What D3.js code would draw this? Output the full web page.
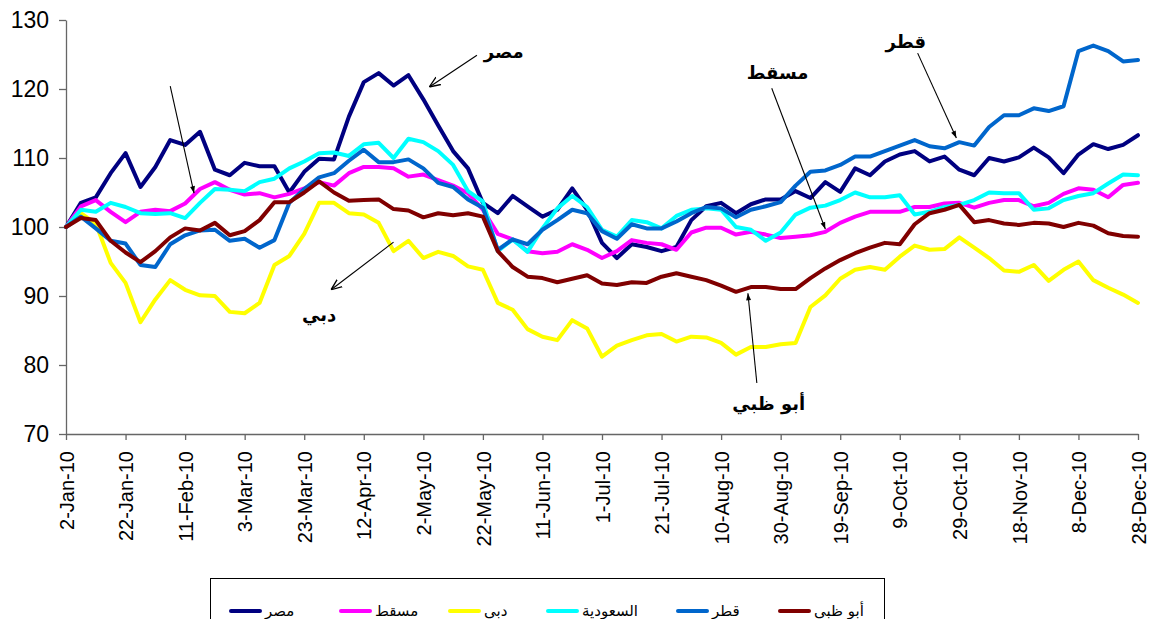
<!DOCTYPE html>
<meta charset="utf-8">
<html>
<head>
<script type="text/javascript" src="https://d3js.org/d3.v7.js"></script>
</head>
<body style="margin:0;background:#fff">
<div id="plotArea"></div>
<style>
  body { font-family: "Liberation Sans", Arial, sans-serif; }
  .axis text { font-family: "Liberation Sans", Arial, sans-serif; fill:#000; }
  .axis path, .axis line { stroke:#666; stroke-width:1.3px; }
  .lbl { font-family: "DejaVu Sans", Arial, sans-serif; font-weight: bold; font-size: 18px; }
  .leg { font-family: "DejaVu Sans", "Liberation Serif", serif; font-size: 15px; }
</style>
<script>
  // chart box
  const W = 1154, H = 619;
  const plotLeft = 66, plotRight = 1138, plotTop = 20, plotBottom = 434;

  // sample days (offset from 2-Jan-2010)
  const days = [0,5,10,15,20,25,30,35,40,45,50,55,60,65,70,75,80,85,90,95,100,105,110,115,120,125,130,135,140,145,150,155,160,165,170,175,180,185,190,195,200,205,210,215,220,225,230,235,240,245,250,255,260,265,270,275,280,285,290,295,300,305,310,315,320,325,330,335,340,345,350,355,360];

  const tickLabels = ['2-Jan-10','22-Jan-10','11-Feb-10','3-Mar-10','23-Mar-10','12-Apr-10','2-May-10','22-May-10','11-Jun-10','1-Jul-10','21-Jul-10','10-Aug-10','30-Aug-10','19-Sep-10','9-Oct-10','29-Oct-10','18-Nov-10','8-Dec-10','28-Dec-10'];
  const yTicks = [70,80,90,100,110,120,130];

  const names = ['مصر','مسقط','دبي','السعودية','قطر','أبو ظبي'];
  const colors = ['#000080','#FF00FF','#FFFF00','#00FFFF','#0066CC','#800000'];

  const egypt = [100,103.5,104.3,107.8,110.7,105.8,108.7,112.6,111.9,113.8,108.3,107.5,109.3,108.8,108.8,105,108,109.9,109.8,116,121,122.3,120.5,122,118.5,114.7,111,108.5,103.5,102,104.5,103,101.5,102.5,105.6,102.5,97.7,95.5,97.5,97.1,96.5,97.1,101,103,103.5,102,103.3,104,104,105.2,104.2,106.5,105.1,108.5,107.5,109.5,110.5,111,109.5,110.2,108.3,107.5,110,109.5,110.1,111.5,110.1,107.8,110.5,112,111.3,111.9,113.3];
  const muscat = [100,103,103.9,102.2,100.7,102.2,102.5,102.3,103.4,105.5,106.5,105.4,104.7,104.9,104.3,104.8,105.6,106.5,106,107.8,108.7,108.7,108.5,107.3,107.6,106.8,106,104.9,102.5,99,98.2,96.5,96.2,96.4,97.5,96.7,95.5,96.5,98.1,97.7,97.5,96.7,99.2,99.9,99.9,98.9,99.3,98.9,98.4,98.6,98.8,99.3,100.6,101.5,102.2,102.2,102.2,102.9,102.9,103.4,103.5,102.8,103.5,103.9,103.9,103,103.5,104.8,105.6,105.4,104.3,106.1,106.4];
  const dubai = [100,102,100.5,94.8,91.9,86.2,89.5,92.3,90.9,90.1,90,87.7,87.5,89,94.5,95.8,99,103.5,103.5,102,101.8,100.6,96.5,98,95.5,96.4,95.8,94.3,93.8,89,88,85.2,84.1,83.6,86.5,85.3,81.2,82.8,83.6,84.3,84.5,83.4,84.1,84,83.2,81.5,82.6,82.6,83,83.2,88.4,90.1,92.5,93.8,94.2,93.8,95.7,97.3,96.7,96.8,98.5,97,95.5,93.7,93.5,94.5,92.2,93.8,95,92.3,91.2,90.2,89];
  const saudi = [100,102.5,102.2,103.5,102.9,102,101.9,102,101.3,103.5,105.5,105.4,105.2,106.5,107,108.5,109.5,110.7,110.8,110.3,112,112.2,110,112.8,112.3,111,109,105.2,103.7,96.5,98.2,96.4,99.8,102.7,104.5,102.9,99.6,98.6,101,100.7,99.8,101.6,102.5,102.7,102.5,100,99.6,98,99.2,101.8,102.8,103.1,103.9,105,104.3,104.3,104.6,101.8,102.2,102.9,103.2,103.9,105,104.9,104.9,102.5,102.7,103.9,104.5,104.9,106.3,107.6,107.5];
  const qatar = [100,101.5,99.8,98,97.6,94.5,94.2,97.5,98.8,99.5,99.6,98,98.3,97,98.1,103.5,105.5,107.2,107.8,109.6,111.2,109.4,109.4,109.8,108.5,106.4,105.8,104,102.8,96.7,98.2,97.5,99.6,101,102.5,102,99.4,98.3,100.4,99.8,99.8,100.8,102,102.9,102.7,101.4,102.5,103,103.6,106,108,108.2,109,110.2,110.2,111,111.8,112.6,111.7,111.4,112.3,111.8,114.5,116.2,116.2,117.2,116.8,117.5,125.5,126.3,125.5,124,124.2];
  const abuDhabi = [100,101.3,101,98,96.3,94.9,96.5,98.5,99.8,99.5,100.6,98.8,99.4,101,103.6,103.6,105,106.6,105,103.8,103.9,104,102.6,102.4,101.4,102,101.7,102,101.5,96.5,94.2,92.8,92.6,92,92.5,93,91.8,91.6,92,91.9,92.8,93.3,92.8,92.3,91.5,90.6,91.3,91.3,91,91,92.6,94,95.2,96.2,97,97.7,97.5,100.4,102,102.5,103.2,100.7,101,100.5,100.3,100.6,100.5,100,100.6,100.2,99.1,98.7,98.6];
  const seriesValues = [egypt, muscat, dubai, saudi, qatar, abuDhabi];

  // annotations: label, text pos [day, value], arrow from, arrow to, head type
  const notes = [
    {t:'مصر', at:[147,125.4], from:[138.3,124.9], to:[122.9,120.3], head:'open'},
    {t:'', at:null, from:[35.6,120.4], to:[43,104.9], head:'fill'},
    {t:'دبي', at:[85.3,87.3], from:[110.5,97.8], to:[89.7,90.9], head:'open'},
    {t:'مسقط', at:[239,122.3], from:[237.4,120.1], to:[255.9,99.7], head:'fill'},
    {t:'قطر', at:[282.7,126.9], from:[286.1,125.2], to:[299.2,112.9], head:'fill'},
    {t:'أبو ظبي', at:[236.4,74.4], from:[232.4,77.4], to:[229,90.4], head:'fill'}
  ];

  const start = new Date(2010,0,2);
  const dayDate = d => new Date(2010,0,2+d);
  const parse = d3.timeParse('%d-%b-%y');

  const svg = d3.select('#plotArea').append('svg')
    .attr('width', W).attr('height', H);

  const x = d3.scaleTime().domain([start, new Date(2010,11,28)]).range([plotLeft, plotRight]);
  const y = d3.scaleLinear().domain([70,130]).range([plotBottom, plotTop]);

  const defs = svg.append('defs');
  defs.append('marker').attr('id','fillHead').attr('viewBox','0 0 10 10')
    .attr('refX',10).attr('refY',5).attr('markerWidth',10).attr('markerHeight',7)
    .attr('markerUnits','userSpaceOnUse').attr('orient','auto')
    .append('path').attr('d','M0,1.5 L10,5 L0,8.5 Z').attr('fill','#000');
  defs.append('marker').attr('id','openHead').attr('viewBox','0 0 10 10')
    .attr('refX',10).attr('refY',5).attr('markerWidth',11).attr('markerHeight',11)
    .attr('markerUnits','userSpaceOnUse').attr('orient','auto')
    .append('path').attr('d','M0,1 L10,5 L0,9').attr('fill','none').attr('stroke','#000').attr('stroke-width',1.2);

  // axes
  const yAxis = svg.append('g').attr('class','axis')
    .attr('transform', `translate(${plotLeft},0)`)
    .call(d3.axisLeft(y).tickValues(yTicks).tickSize(7).tickPadding(10).tickSizeOuter(0));
  yAxis.selectAll('text').style('font-size','23px');

  const xAxis = svg.append('g').attr('class','axis')
    .attr('transform', `translate(0,${plotBottom})`)
    .call(d3.axisBottom(x).tickValues(tickLabels.map(parse)).tickFormat((d,i) => tickLabels[i]).tickSize(6).tickSizeOuter(0));
  xAxis.selectAll('text')
    .style('font-size','20px')
    .attr('transform','rotate(-90)')
    .attr('x', -17).attr('y', 0).attr('dy','0.36em')
    .style('text-anchor','end');

  // lines
  const line = d3.line()
    .x((d,i) => x(dayDate(days[i])))
    .y(d => y(d));

  svg.append('g').selectAll('path')
    .data(seriesValues).enter().append('path')
    .attr('d', d => line(d))
    .attr('fill','none')
    .attr('stroke', (d,i) => colors[i])
    .attr('stroke-width', 4)
    .attr('stroke-linejoin','round')
    .attr('stroke-linecap','round');

  // annotations
  const ann = svg.append('g');
  notes.forEach(function(n){
    ann.append('line')
      .attr('x1', x(dayDate(n.from[0]))).attr('y1', y(n.from[1]))
      .attr('x2', x(dayDate(n.to[0]))).attr('y2', y(n.to[1]))
      .attr('stroke','#000').attr('stroke-width',1.1)
      .attr('marker-end', n.head == 'fill' ? 'url(#fillHead)' : 'url(#openHead)');
    if(n.at){
      ann.append('text').attr('class','lbl')
        .attr('x', x(dayDate(n.at[0]))).attr('y', y(n.at[1]))
        .attr('text-anchor','middle').attr('dy','0.35em')
        .text(n.t);
    }
  });

  // legend
  const leg = svg.append('g');
  leg.append('rect').attr('x',210.5).attr('y',578.5).attr('width',674).attr('height',60)
    .attr('fill','#fff').attr('stroke','#000').attr('stroke-width',1);
  const legX = [231, 341, 450, 548, 678, 780];
  names.forEach(function(nm,i){
    leg.append('line').attr('x1',legX[i]).attr('x2',legX[i]+29)
      .attr('y1',611).attr('y2',611)
      .attr('stroke',colors[i]).attr('stroke-width',4).attr('stroke-linecap','round');
    leg.append('text').attr('class','leg')
      .attr('x',legX[i]+34).attr('y',611).attr('dy','0.35em')
      .attr('text-anchor','start')
      .text(nm);
  });
</script>
</body>
</html>
